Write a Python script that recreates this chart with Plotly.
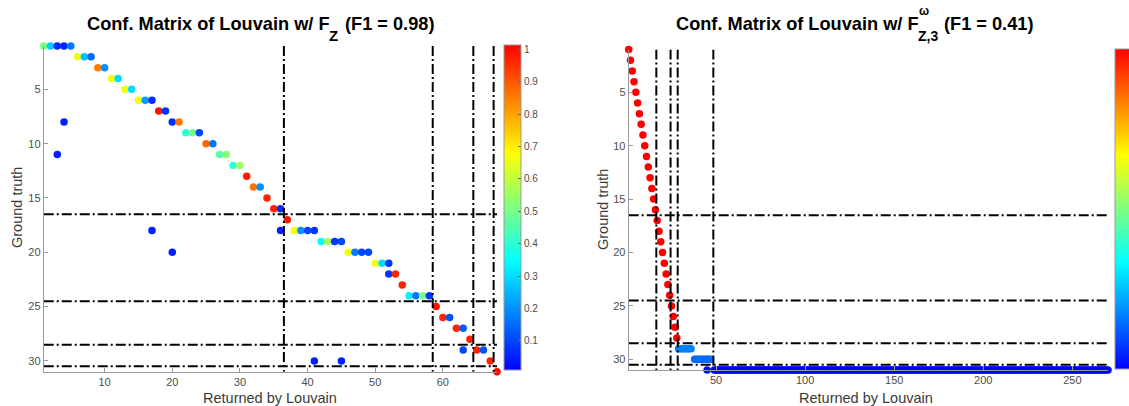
import plotly.graph_objects as go

# ---------------- data ----------------
# Left panel: Louvain on F_Z. Each entry: returned community, ground-truth community, fraction
left_returned = [1, 2, 3, 4, 5,
                 6, 7, 8,
                 9, 10,
                 11, 12,
                 13, 14,
                 15, 16, 17,
                 18, 19,
                 4, 20, 21,
                 22, 23, 24,
                 25, 26,
                 3, 27, 28,
                 29, 30,
                 31,
                 32, 33,
                 34,
                 35, 36,
                 37,
                 17, 36, 38, 39, 40, 41,
                 42, 43, 44, 45,
                 20, 46, 47, 48, 49,
                 50, 51, 52,
                 52, 53,
                 54,
                 55, 56, 57, 58,
                 59,
                 60, 61,
                 62, 63,
                 64,
                 63, 65, 66,
                 41, 45, 67,
                 68]
left_truth = [1, 1, 1, 1, 1,
              2, 2, 2,
              3, 3,
              4, 4,
              5, 5,
              6, 6, 6,
              7, 7,
              8, 8, 8,
              9, 9, 9,
              10, 10,
              11, 11, 11,
              12, 12,
              13,
              14, 14,
              15,
              16, 16,
              17,
              18, 18, 18, 18, 18, 18,
              19, 19, 19, 19,
              20, 20, 20, 20, 20,
              21, 21, 21,
              22, 22,
              23,
              24, 24, 24, 24,
              25,
              26, 26,
              27, 27,
              28,
              29, 29, 29,
              30, 30, 30,
              31]
left_frac = [0.50, 0.28, 0.06, 0.06, 0.17,
             0.65, 0.26, 0.15,
             0.85, 0.20,
             0.66, 0.30,
             0.66, 0.30,
             0.66, 0.22, 0.07,
             0.99, 0.08,
             0.05, 0.07, 0.86,
             0.40, 0.50, 0.10,
             0.88, 0.16,
             0.05, 0.46, 0.52,
             0.40, 0.56,
             0.98,
             0.86, 0.20,
             0.97,
             0.97, 0.07,
             0.99,
             0.05, 0.05, 0.66, 0.20, 0.10, 0.08,
             0.34, 0.56, 0.08, 0.10,
             0.05, 0.66, 0.17, 0.10, 0.10,
             0.66, 0.30, 0.08,
             0.08, 0.97,
             0.97,
             0.33, 0.17, 0.50, 0.08,
             0.99,
             0.97, 0.12,
             0.97, 0.13,
             0.97,
             0.10, 0.97, 0.12,
             0.05, 0.05, 0.97,
             1.00]

# Right panel: Louvain on F^w_{Z,3}; isolated points plus contiguous runs
right_returned = [1, 2, 3, 4, 5, 6, 7, 8, 9, 10, 11, 12, 13, 14,
                  15, 16, 17, 18, 19, 20, 21, 22, 23, 24, 25, 26, 27, 28,
                  45]
right_truth = [1, 2, 3, 4, 5, 6, 7, 8, 9, 10, 11, 12, 13, 14,
               15, 16, 17, 18, 19, 20, 21, 22, 23, 24, 25, 26, 27, 28,
               31]
right_frac = [1.0] * 28 + [0.02]
# runs: (first returned, last returned, ground truth, fraction)
right_runs = [(29, 36, 29, 0.17),
              (38, 47, 30, 0.14),
              (49, 270, 31, 0.005)]

# Community boundaries (dash-dot separators)
truth_bounds = [16.5, 24.5, 28.5, 30.5]
left_found_bounds = [36.5, 58.5, 64.5, 67.5]
right_found_bounds = [16.5, 24.5, 28.5, 48.5]

left_xticks = [10, 20, 30, 40, 50, 60]
right_xticks = [50, 100, 150, 200, 250]
yticks = [5, 10, 15, 20, 25, 30]
cbar_ticks = [0.1, 0.2, 0.3, 0.4, 0.5, 0.6, 0.7, 0.8, 0.9, 1.0]
cbar_labels = ["0.1", "0.2", "0.3", "0.4", "0.5", "0.6", "0.7", "0.8", "0.9", "1"]

# expand runs into individual points
for first, last, gt, fr in right_runs:
    for r in range(first, last + 1):
        right_returned.append(r)
        right_truth.append(gt)
        right_frac.append(fr)

# ---------------- styling ----------------
W, H = 1129, 406
FONT = "Liberation Sans, Arial, Helvetica, sans-serif"
jet = [[0.0, "rgb(0,0,255)"], [1 / 3, "rgb(0,255,255)"],
       [2 / 3, "rgb(255,255,0)"], [1.0, "rgb(255,0,0)"]]
AXCOL = "#9a9a9a"
TICKFONT = dict(family=FONT, size=11, color="#4d4d4d")


def px_x(p):
    return p / W


def px_y(p):
    return 1 - p / H


fig = go.Figure()

fig.add_trace(go.Scatter(
    x=left_returned, y=left_truth, mode="markers", xaxis="x", yaxis="y",
    cliponaxis=False, showlegend=False,
    marker=dict(size=7.5, color=left_frac, colorscale=jet, cmin=0.01, cmax=1.013,
                line=dict(width=0),
                colorbar=dict(x=px_x(504), xanchor="left", y=px_y(207.5), yanchor="middle",
                              len=325 / H, lenmode="fraction", thickness=17,
                              thicknessmode="pixels", outlinewidth=1, outlinecolor=AXCOL,
                              tickvals=cbar_ticks, ticktext=cbar_labels, ticks="inside",
                              ticklen=3, tickcolor="#666", tickfont=dict(family=FONT, size=10, color="#4d4d4d"),
                              xpad=0, ypad=0)),
))

fig.add_trace(go.Scatter(
    x=right_returned, y=right_truth, mode="markers", xaxis="x2", yaxis="y2",
    cliponaxis=False, showlegend=False,
    marker=dict(size=7.5, color=right_frac, colorscale=jet, cmin=0.0, cmax=1.0,
                line=dict(width=0),
                colorbar=dict(x=px_x(1115), xanchor="left", y=px_y(209), yanchor="middle",
                              len=320 / H, lenmode="fraction", thickness=17,
                              thicknessmode="pixels", outlinewidth=1, outlinecolor=AXCOL,
                              showticklabels=False, ticks="", xpad=0, ypad=0)),
))

DASH = "10px,3px,2px,3px"
shapes = []
for xb in left_found_bounds:
    shapes.append(dict(type="line", xref="x", yref="y", x0=xb, x1=xb, y0=1, y1=31,
                       line=dict(color="black", width=2, dash=DASH)))
for yb in truth_bounds:
    shapes.append(dict(type="line", xref="x", yref="y", x0=1, x1=68, y0=yb, y1=yb,
                       line=dict(color="black", width=2, dash=DASH)))
for xb in right_found_bounds:
    shapes.append(dict(type="line", xref="x2", yref="y2", x0=xb, x1=xb, y0=1, y1=31,
                       line=dict(color="black", width=2, dash=DASH)))
for yb in truth_bounds:
    shapes.append(dict(type="line", xref="x2", yref="y2", x0=1, x1=270, y0=yb, y1=yb,
                       line=dict(color="black", width=2, dash=DASH)))

axis_common = dict(showgrid=False, zeroline=False, showline=True, linecolor=AXCOL,
                   linewidth=1, ticks="inside", ticklen=4, tickcolor=AXCOL,
                   tickfont=TICKFONT, mirror=False)

title_font = dict(family=FONT, size=18.2, color="black")
lab_font = dict(family=FONT, size=14.5, color="#3a3a3a")


def title_piece(text, x, y, anchor, size=None):
    f = dict(title_font) if size is None else dict(family=FONT, size=size, color="black")
    return dict(text=text, x=px_x(x), y=px_y(y), xref="paper", yref="paper",
                xanchor=anchor, yanchor="middle", showarrow=False, borderpad=0, font=f)


annotations = [
    # left title
    title_piece("<b>Conf. Matrix of Louvain w/ F</b>", 331, 24, "right"),
    title_piece("<b>Z</b>", 328, 35, "left", 15),
    title_piece("<b>(F1 = 0.98)</b>", 344, 24, "left"),
    # right title, assembled in pieces to stack the super/subscripts
    title_piece("<b>Conf. Matrix of Louvain w/ F</b>", 920, 24, "right"),
    title_piece("<b>ω</b>", 918, 11, "left", 12),
    title_piece("<b>Z,3</b>", 917, 36, "left", 14),
    title_piece("<b>(F1 = 0.41)</b>", 943, 24, "left"),
    # axis labels
    dict(text="Returned by Louvain", x=px_x(270), y=px_y(398), xref="paper", yref="paper",
         xanchor="center", yanchor="middle", showarrow=False, font=lab_font),
    dict(text="Returned by Louvain", x=px_x(866), y=px_y(398), xref="paper", yref="paper",
         xanchor="center", yanchor="middle", showarrow=False, font=lab_font),
    dict(text="Ground truth", x=px_x(17), y=px_y(208), xref="paper", yref="paper",
         xanchor="center", yanchor="middle", textangle=-90, showarrow=False, font=lab_font),
    dict(text="Ground truth", x=px_x(603), y=px_y(210), xref="paper", yref="paper",
         xanchor="center", yanchor="middle", textangle=-90, showarrow=False, font=lab_font),
]

fig.update_layout(
    width=W, height=H,
    margin=dict(l=0, r=0, t=0, b=0, pad=0, autoexpand=False),
    paper_bgcolor="white", plot_bgcolor="white",
    xaxis=dict(domain=[px_x(43.75), px_x(497)], range=[1, 68], tickvals=left_xticks,
               anchor="y", **axis_common),
    yaxis=dict(domain=[px_y(371.8), px_y(45.9)], range=[31, 1], tickvals=yticks,
               anchor="x", **axis_common),
    xaxis2=dict(domain=[px_x(628.7), px_x(1108)], range=[1, 270], tickvals=right_xticks,
                anchor="y2", **axis_common),
    yaxis2=dict(domain=[px_y(370), px_y(49.6)], range=[31, 1], tickvals=yticks,
                anchor="x2", **axis_common),
    shapes=shapes,
    annotations=annotations,
)

fig.write_html("out.html")
